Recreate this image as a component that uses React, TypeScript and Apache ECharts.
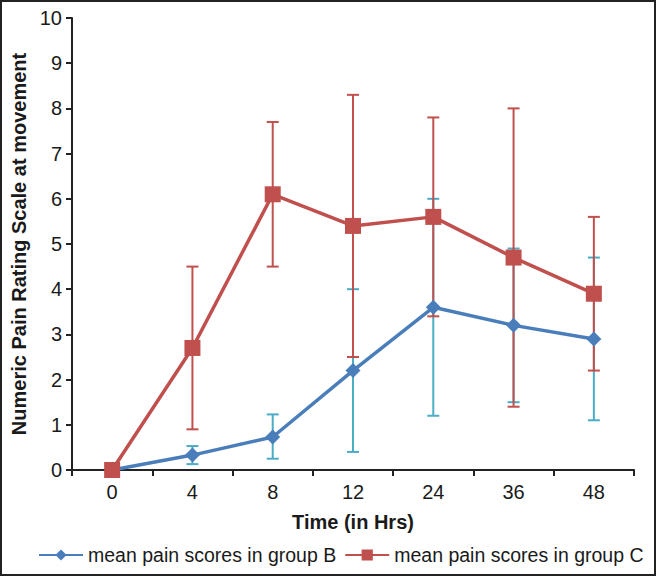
import React, { useEffect, useRef } from "react";
import * as echarts from "echarts";

const categories = ["0", "4", "8", "12", "24", "36", "48"];
const groupB = [0, 0.33, 0.73, 2.2, 3.6, 3.2, 2.9];
const groupBLow = [null, 0.13, 0.25, 0.4, 1.2, 1.5, 1.1];
const groupBHigh = [null, 0.53, 1.23, 4.0, 6.0, 4.9, 4.7];
const groupC = [0, 2.7, 6.1, 5.4, 5.6, 4.7, 3.9];
const groupCLow = [null, 0.9, 4.5, 2.5, 3.4, 1.4, 2.2];
const groupCHigh = [null, 4.5, 7.7, 8.3, 7.8, 8.0, 5.6];

const BLUE = "#4A7EBB";
const CYAN = "#4BACC6";
const RED = "#C0504D";
const FONT = "Liberation Sans";
const TXT = "#1a1a1a";

function errData(low: (number | null)[], high: (number | null)[]) {
  const out: number[][] = [];
  low.forEach((l, i) => {
    const h = high[i];
    if (l != null && h != null) out.push([i, l, h]);
  });
  return out;
}

function makeRender(color: string) {
  return (params: any, api: any) => {
    const x = api.value(0);
    const top = api.coord([x, api.value(2)]);
    const bot = api.coord([x, api.value(1)]);
    const cap = 6;
    const style = { stroke: color, lineWidth: 2 };
    return {
      type: "group",
      children: [
        { type: "line", shape: { x1: top[0], y1: top[1], x2: bot[0], y2: bot[1] }, style },
        { type: "line", shape: { x1: top[0] - cap, y1: top[1], x2: top[0] + cap, y2: top[1] }, style },
        { type: "line", shape: { x1: bot[0] - cap, y1: bot[1], x2: bot[0] + cap, y2: bot[1] }, style },
      ],
    };
  };
}

export default function App() {
  const ref = useRef<HTMLDivElement>(null);
  useEffect(() => {
    if (!ref.current) return;
    const chart = echarts.init(ref.current, undefined, { renderer: "svg" });
    chart.setOption({
      animation: false,
      backgroundColor: "#fff",
      textStyle: { fontFamily: FONT },
      graphic: [
        {
          type: "rect",
          shape: { x: 1, y: 1, width: 654, height: 574 },
          style: { fill: "none", stroke: "#222", lineWidth: 2 },
          silent: true,
        },
      ],
      grid: { left: 72, right: 22, top: 18, bottom: 106, containLabel: false },
      legend: {
        data: [
          "mean pain scores in group B",
          "mean pain scores in group C",
        ],
        orient: "horizontal",
        left: 38,
        top: 545,
        width: 616,
        padding: 0,
        itemWidth: 44,
        itemHeight: 14,
        itemGap: 8,
        textStyle: { fontSize: 19.5, color: TXT, fontFamily: FONT },
      },
      xAxis: {
        type: "category",
        data: categories,
        boundaryGap: true,
        name: "Time (in Hrs)",
        nameLocation: "middle",
        nameGap: 42,
        nameTextStyle: { fontSize: 20, fontWeight: "bold", color: TXT, fontFamily: FONT },
        axisLine: { lineStyle: { color: "#222", width: 2 } },
        axisTick: { show: true, length: 6, lineStyle: { color: "#222", width: 2 } },
        axisLabel: { fontSize: 20, color: TXT, margin: 12, fontFamily: FONT },
        splitLine: { show: false },
      },
      yAxis: {
        type: "value",
        min: 0,
        max: 10,
        interval: 1,
        name: "Numeric Pain Rating Scale at movement",
        nameLocation: "middle",
        nameGap: 43,
        nameTextStyle: { fontSize: 20, fontWeight: "bold", color: TXT, fontFamily: FONT },
        axisLine: { show: true, lineStyle: { color: "#222", width: 2 } },
        axisTick: { show: true, length: 6, lineStyle: { color: "#222", width: 2 } },
        axisLabel: { fontSize: 20, color: TXT, margin: 10, fontFamily: FONT },
        splitLine: { show: false },
      },
      series: [
        {
          type: "custom",
          name: "errB",
          data: errData(groupBLow, groupBHigh),
          renderItem: makeRender(CYAN),
          z: 1,
          silent: true,
        },
        {
          type: "custom",
          name: "errC",
          data: errData(groupCLow, groupCHigh),
          renderItem: makeRender(RED),
          z: 1,
          silent: true,
        },
        {
          type: "line",
          name: "mean pain scores in group B",
          data: groupB,
          symbol: "diamond",
          symbolSize: 15,
          lineStyle: { color: BLUE, width: 3.5 },
          itemStyle: { color: BLUE },
          z: 3,
        },
        {
          type: "line",
          name: "mean pain scores in group C",
          data: groupC,
          symbol: "rect",
          symbolSize: 16,
          lineStyle: { color: RED, width: 3.5 },
          itemStyle: { color: RED },
          z: 4,
        },
      ],
    });
    return () => chart.dispose();
  }, []);
  return (
    <div
      ref={ref}
      style={{ position: "absolute", left: 0, top: 0, width: 656, height: 576 }}
    />
  );
}
